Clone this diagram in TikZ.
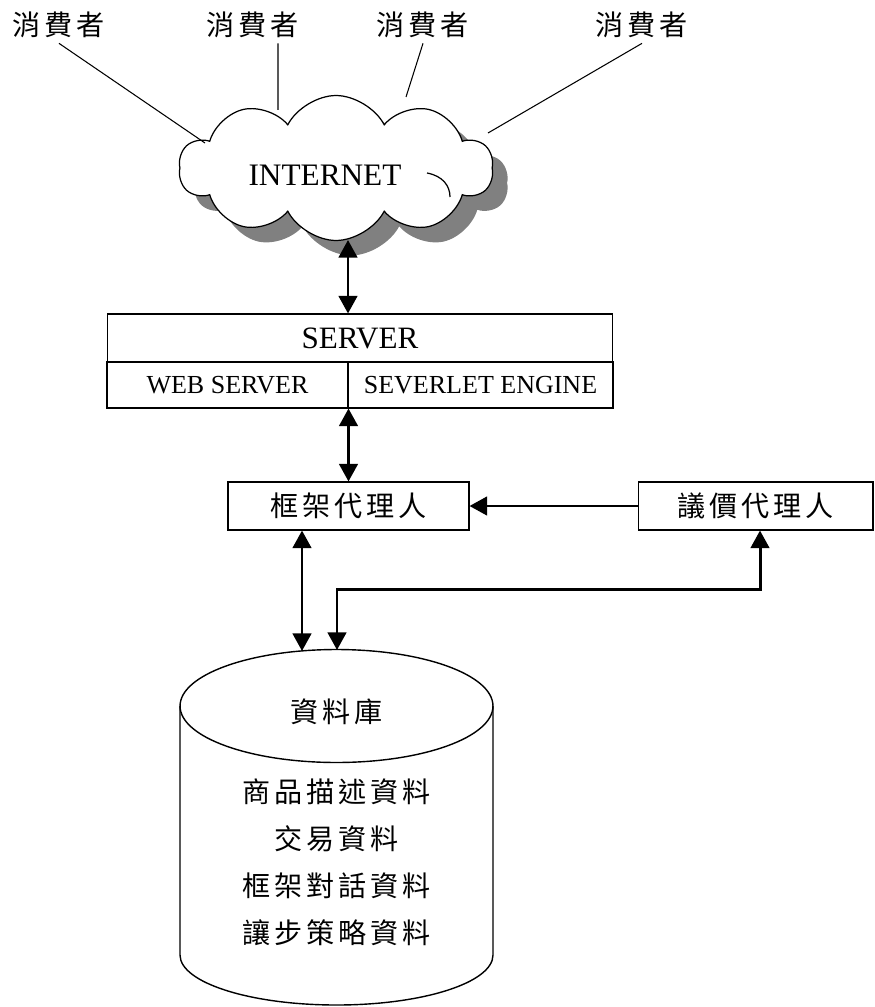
\documentclass[tikz,border=0pt]{standalone}
\usepackage{fontspec}
\setmainfont{Liberation Serif}
\newfontfamily\cjk[LetterSpace=14]{Noto Sans CJK TC}
\usetikzlibrary{shapes.symbols,shadows,arrows.meta}

\begin{document}
\begin{tikzpicture}[x=0.02cm, y=-0.02cm,
    zh/.style={font=\cjk\fontsize{16pt}{19pt}\selectfont},
    box/.style={draw, line width=0.6pt, inner sep=0pt, minimum height=0.96cm},
    link/.style={line width=1.7pt, {Triangle[length=10pt, width=10.5pt]}-{Triangle[length=10pt, width=10.5pt]}},
    onelink/.style={line width=1.7pt, -{Triangle[length=10pt, width=10.5pt]}}]
    \useasboundingbox (0,0) rectangle (875,1007);

    % consumers
    \draw[every node/.style={zh, inner sep=0.1cm}]
        (59, 25) node (c1){消費者}
        (253, 25) node (c2){消費者}
        (423, 25) node (c3){消費者}
        (642, 25) node (c4){消費者};

    % internet cloud
    \node[cloud, draw, line width=0.7pt, fill=white, cloud puffs=10, cloud puff arc=125,
          aspect=2.2, inner sep=0pt, minimum width=6.28cm, minimum height=2.9cm,
          drop shadow={shadow xshift=0.3cm, shadow yshift=-0.3cm, fill=gray, opacity=1}]
          (net) at (336, 168) {};
    \node[font=\fontsize{17.8pt}{20pt}\selectfont] (nettext) at (325, 175) {INTERNET};
    \draw[line width=0.7pt] (427, 173) .. controls (443, 176) and (450, 186) .. (450, 197);

    \coordinate (p1) at (205, 143);
    \coordinate (p2) at (278, 110);
    \coordinate (p3) at (406, 97);
    \coordinate (p4) at (488, 133);
    \coordinate (netfoot) at (348, 240);
    \begin{scope}[line width=0.6pt]
        \draw (c1.south) -- (p1);
        \draw ([xshift=0.5cm]c2.south) -- (p2);
        \draw (c3.south) -- (p3);
        \draw (c4.south) -- (p4);
    \end{scope}

    % server
    \node[box, minimum width=10.12cm, font=\fontsize{17.7pt}{20pt}\selectfont] (server) at (360, 338) {SERVER};
    \node[box, minimum width=4.82cm, minimum height=0.92cm, font=\fontsize{14.8pt}{17pt}\selectfont] (web) at (227.5, 385) {WEB SERVER};
    \node[box, minimum width=5.3cm, minimum height=0.92cm, font=\fontsize{14.8pt}{17pt}\selectfont] (engine) at (480.5, 385) {SEVERLET ENGINE};

    % agents
    \node[box, zh, minimum width=4.82cm] (frame) at (348.5, 506) {框架代理人};
    \node[box, zh, minimum width=4.7cm] (bargain) at (755.5, 506) {議價代理人};

    % database
    \begin{scope}[line width=0.8pt]
        \draw (336.5, 706) ellipse [x radius=3.13cm, y radius=1.13cm];
        \draw (180, 706) -- (180, 955)
            .. controls (180, 982.6) and (250.1, 1005) .. (336.5, 1005)
            .. controls (422.9, 1005) and (493, 982.6) .. (493, 955) -- (493, 706);
    \end{scope}
    \coordinate (dbleft) at (302, 651);
    \coordinate (dbright) at (337, 650);
    \coordinate (turn) at (760, 589);
    \node[zh] (db) at (336.5, 712) {資料庫};
    \node[zh] (item1) at (336.5, 792) {商品描述資料};
    \node[zh] (item2) at (336.5, 839) {交易資料};
    \node[zh] (item3) at (336.5, 886) {框架對話資料};
    \node[zh] (item4) at (336.5, 933) {讓步策略資料};

    % connectors
    \draw[link] (netfoot) -- (netfoot |- server.north);
    \draw[link] (frame.north |- web.south) -- (frame.north);
    \draw[onelink] (bargain.west) -- (frame.east);
    \draw[link] (frame.south -| dbleft) -- (dbleft);
    \draw[link] (bargain.south -| turn) -- (turn) -- (turn -| dbright) -- (dbright);
\end{tikzpicture}
\end{document}
